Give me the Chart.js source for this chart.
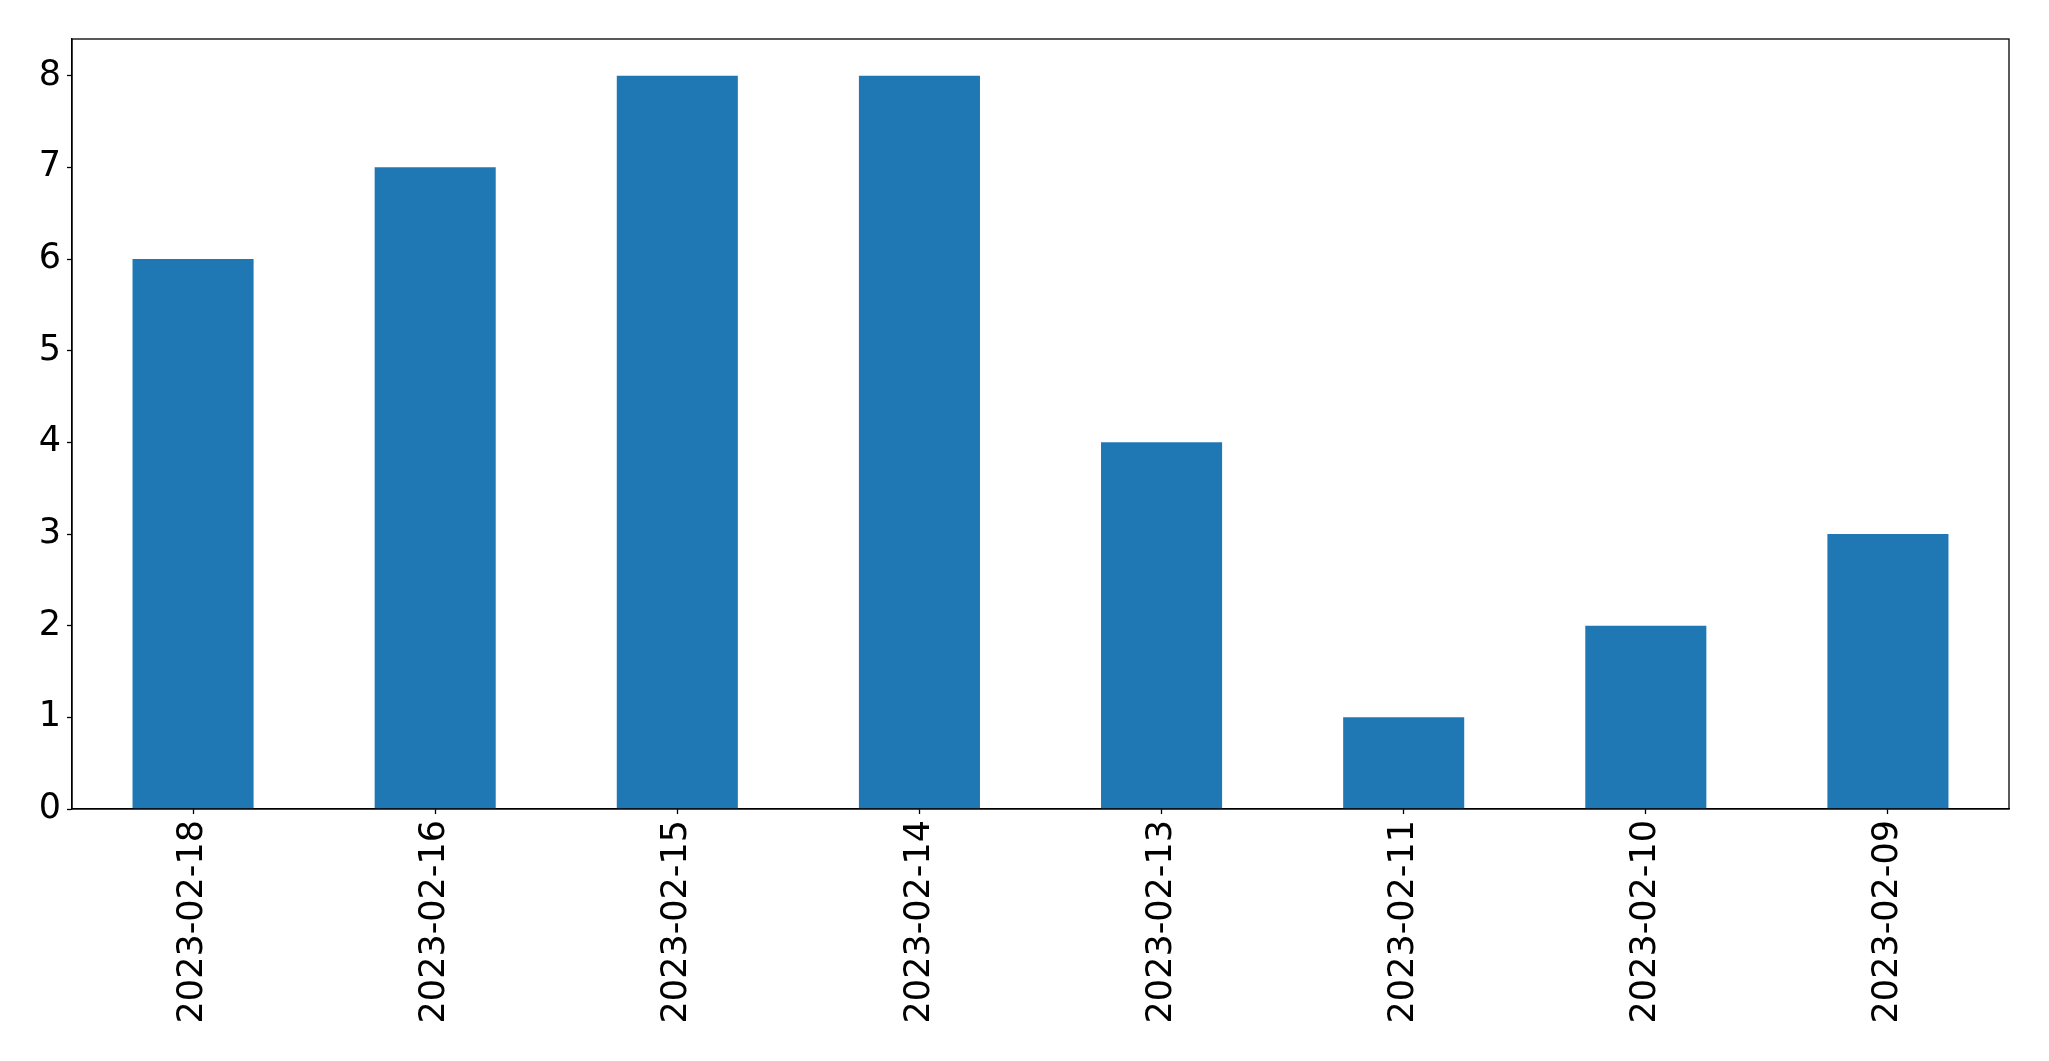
<!DOCTYPE html>
<html>
<head>
<meta charset="utf-8">
<script src="https://cdn.jsdelivr.net/npm/chart.js@4/dist/chart.umd.min.js"></script>
<style>
html,body{margin:0;padding:0;background:#fff;}
#wrap{width:2049px;height:1061px;position:relative;}
</style>
</head>
<body>
<div id="wrap"><canvas id="c" width="2049" height="1061"></canvas></div>
<script>
const categories = ["2023-02-18","2023-02-16","2023-02-15","2023-02-14","2023-02-13","2023-02-11","2023-02-10","2023-02-09"];
const values = [6, 7, 8, 8, 4, 1, 2, 3];
const yTicks = [0, 1, 2, 3, 4, 5, 6, 7, 8];
const yMax = 8.4;

const frame = {
  id: 'frame',
  afterDatasetsDraw(chart) {
    const a = chart.chartArea, ctx = chart.ctx;
    ctx.save();
    ctx.strokeStyle = '#000';
    ctx.lineWidth = 1.3;
    ctx.strokeRect(a.left, a.top, a.right - a.left, a.bottom - a.top);
    ctx.restore();
  }
};

new Chart(document.getElementById('c'), {
  type: 'bar',
  data: {
    labels: categories,
    datasets: [{ data: values, backgroundColor: '#1f77b4', borderWidth: 0,
      categoryPercentage: 1.0, barPercentage: 0.5 }]
  },
  options: {
    responsive: false,
    animation: false,
    devicePixelRatio: 1,
    layout: { padding: { top: 39, right: 40, left: 0, bottom: 0 } },
    plugins: { legend: { display: false }, tooltip: { enabled: false } },
    scales: {
      x: {
        type: 'category',
        offset: true,
        grid: { display: true, drawOnChartArea: false, drawTicks: true, tickLength: 5, tickColor: '#000', tickWidth: 1.3, offset: false },
        border: { display: true, color: '#000', width: 1.3 },
        ticks: { color: '#000', font: { family: 'DejaVu Sans', size: 35 }, minRotation: 90, maxRotation: 90, padding: 6, autoSkip: false },
        afterFit(s) { s.height = 252; }
      },
      y: {
        min: 0, max: yMax,
        grid: { display: true, drawOnChartArea: false, drawTicks: true, tickLength: 5, tickColor: '#000', tickWidth: 1.3 },
        border: { display: true, color: '#000', width: 1.3 },
        ticks: { color: '#000', font: { family: 'DejaVu Sans', size: 35 }, padding: 6 },
        afterBuildTicks(s) { s.ticks = yTicks.map(v => ({ value: v })); },
        afterFit(s) { s.width = 72; }
      }
    }
  },
  plugins: [frame]
});
</script>
</body>
</html>
